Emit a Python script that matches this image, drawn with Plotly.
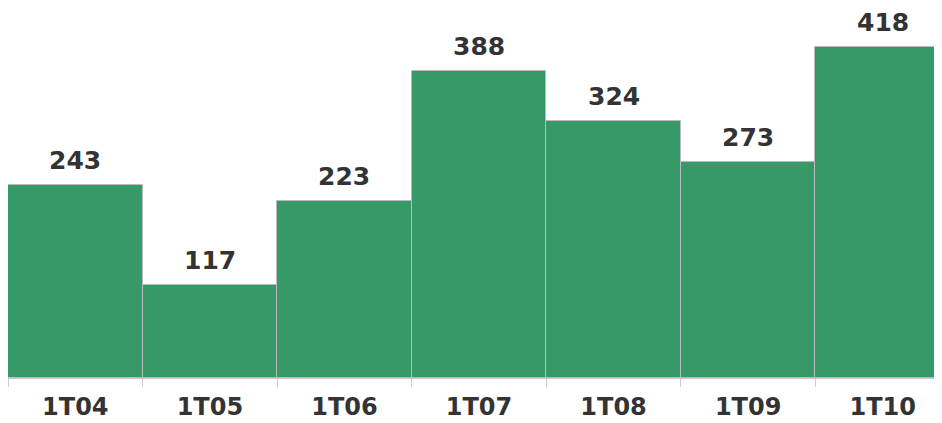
import plotly.graph_objects as go

categories = ["1T04", "1T05", "1T06", "1T07", "1T08", "1T09", "1T10"]
values = [243, 117, 223, 388, 324, 273, 418]

FONT = "DejaVu Sans"
fig = go.Figure(go.Bar(
    x=categories, y=values,
    marker=dict(color="#359a68", line=dict(color="#bbbbbb", width=1)),
    cliponaxis=False,
))
for c, v in zip(categories, values):
    fig.add_annotation(x=c, y=v, text=str(v), showarrow=False, yanchor="bottom",
                       yshift=8, font=dict(family=FONT, size=25, color="#333333", weight="bold"))
fig.update_layout(
    width=942, height=423,
    margin=dict(l=0, r=0, t=0, b=53, autoexpand=False),
    plot_bgcolor="white", paper_bgcolor="white",
    bargap=0, showlegend=False,
    xaxis=dict(showline=True, linecolor="#cccccc", linewidth=1,
               ticks="outside", tickson="boundaries", ticklen=8, tickcolor="#cccccc",
               tickfont=dict(family=FONT, size=24, color="#333333", weight="bold"),
               ticklabelstandoff=7, showgrid=False),
    yaxis=dict(range=[0, 467], visible=False, showgrid=False),
)
fig.write_html("out.html")
